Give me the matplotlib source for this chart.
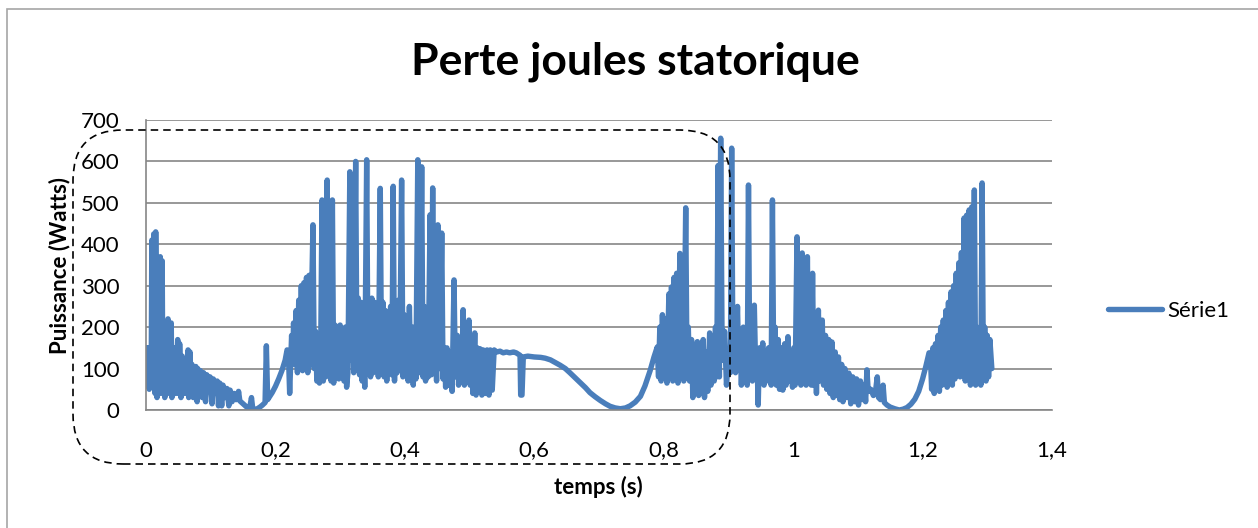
import numpy as np
import matplotlib
matplotlib.use("Agg")
from matplotlib import pyplot as plt
from matplotlib.patches import FancyBboxPatch, Rectangle
from matplotlib.transforms import IdentityTransform

# Perte joules statorique, relevé par tronçons (temps en s, puissance en W)
t_demarrage = [0.000, 0.002, 0.003, 0.005, 0.006, 0.008, 0.009, 0.011, 0.012, 0.014,
               0.015, 0.017, 0.018, 0.020, 0.022, 0.023, 0.025, 0.026, 0.028, 0.029,
               0.031, 0.032, 0.034, 0.036, 0.037, 0.039, 0.040, 0.042, 0.043, 0.045,
               0.046, 0.048, 0.049, 0.051, 0.052, 0.054, 0.056, 0.057, 0.059, 0.060,
               0.062, 0.063, 0.065, 0.066, 0.068, 0.070, 0.071, 0.073, 0.074, 0.076,
               0.077, 0.079, 0.080, 0.082]
p_demarrage = [150, 60, 150, 50, 140, 60, 410, 70, 425, 40,
               430, 30, 130, 60, 370, 40, 360, 50, 140, 30,
               120, 60, 220, 40, 150, 210, 30, 130, 60, 150,
               40, 120, 170, 40, 160, 30, 130, 60, 120, 40,
               110, 50, 145, 30, 140, 50, 110, 30, 100, 50,
               105, 20, 100, 40]

t_creux1 = [0.084, 0.087, 0.089, 0.092, 0.094, 0.097, 0.099, 0.102, 0.104, 0.107,
            0.110, 0.112, 0.114, 0.117, 0.119, 0.122, 0.125, 0.128, 0.130, 0.133,
            0.136, 0.139, 0.142, 0.143, 0.145, 0.150, 0.155, 0.160, 0.163, 0.165,
            0.168, 0.172, 0.176, 0.180, 0.184, 0.186, 0.188, 0.190, 0.195, 0.200,
            0.205, 0.210, 0.215, 0.218]
p_creux1 = [95, 30, 90, 20, 85, 45, 80, 15, 75, 40,
            70, 10, 65, 10, 60, 30, 52, 10, 48, 20,
            40, 25, 28, 45, 22, 15, 8, 3, 30, 2,
            1, 3, 7, 12, 18, 155, 25, 30, 42, 57,
            75, 95, 120, 145]

t_montee = [0.220, 0.222, 0.225, 0.227, 0.228, 0.230, 0.232, 0.234, 0.236, 0.238,
            0.240, 0.242, 0.244, 0.246, 0.248, 0.250, 0.252, 0.254, 0.258, 0.260,
            0.262, 0.264, 0.267, 0.268, 0.270, 0.272, 0.274, 0.276, 0.278, 0.280,
            0.282, 0.284, 0.286, 0.288, 0.290, 0.292, 0.294, 0.296, 0.298, 0.300,
            0.302, 0.304, 0.306, 0.308, 0.310]
p_montee = [140, 40, 180, 120, 210, 110, 240, 90, 265, 110,
            300, 95, 307, 120, 320, 90, 325, 110, 447, 100,
            190, 70, 160, 65, 150, 507, 70, 400, 80, 555,
            90, 500, 70, 507, 65, 205, 90, 200, 75, 205,
            95, 195, 70, 200, 55]

t_regime = [0.312, 0.315, 0.317, 0.319, 0.321, 0.324, 0.326, 0.328, 0.330, 0.332,
            0.334, 0.336, 0.338, 0.341, 0.343, 0.345, 0.347, 0.349, 0.351, 0.353,
            0.355, 0.357, 0.359, 0.362, 0.364, 0.366, 0.368, 0.370, 0.372, 0.374,
            0.376, 0.378, 0.380, 0.382, 0.384, 0.386, 0.388, 0.390, 0.392, 0.395,
            0.397, 0.399, 0.401, 0.403, 0.405, 0.407, 0.409, 0.411, 0.413, 0.415,
            0.417, 0.420, 0.422, 0.424, 0.426, 0.428, 0.430, 0.432, 0.434, 0.436,
            0.439, 0.441, 0.443, 0.445, 0.447, 0.449, 0.451, 0.453, 0.455, 0.457,
            0.459, 0.461, 0.463]
p_regime = [90, 575, 120, 250, 90, 600, 100, 270, 85, 260,
            70, 200, 55, 604, 100, 250, 80, 270, 90, 260,
            100, 250, 80, 535, 90, 260, 80, 240, 70, 200,
            90, 250, 85, 540, 70, 230, 90, 265, 100, 555,
            80, 230, 95, 200, 70, 250, 90, 200, 60, 200,
            75, 604, 90, 210, 587, 80, 250, 70, 200, 80,
            471, 85, 536, 90, 250, 70, 447, 100, 200, 427,
            75, 150, 55]

t_palier = [0.465, 0.467, 0.470, 0.473, 0.476, 0.478, 0.481, 0.483, 0.486, 0.488,
            0.490, 0.492, 0.494, 0.496, 0.499, 0.501, 0.503, 0.505, 0.508, 0.510,
            0.512, 0.514, 0.516, 0.519, 0.521, 0.524, 0.527, 0.530, 0.532, 0.535,
            0.538, 0.542, 0.547, 0.552, 0.557, 0.562, 0.568, 0.572, 0.575, 0.578,
            0.579, 0.581, 0.583, 0.590, 0.600, 0.610, 0.617, 0.625, 0.632, 0.640,
            0.648, 0.655, 0.663, 0.671, 0.679, 0.686, 0.694, 0.702, 0.710, 0.717,
            0.725, 0.733, 0.741, 0.748, 0.756, 0.764, 0.771, 0.779, 0.785]
p_palier = [150, 60, 140, 45, 314, 80, 180, 60, 160, 70,
            242, 60, 200, 70, 217, 60, 160, 40, 186, 36,
            150, 45, 148, 36, 145, 40, 145, 36, 145, 48,
            145, 140, 142, 138, 140, 138, 140, 138, 135, 132,
            36, 36, 128, 130, 128, 127, 125, 121, 115, 108,
            100, 90, 78, 66, 54, 42, 32, 23, 15, 9,
            5, 3, 5, 10, 19, 33, 58, 95, 128]

t_crete = [0.790, 0.792, 0.794, 0.796, 0.798, 0.800, 0.803, 0.805, 0.808, 0.810,
           0.812, 0.814, 0.816, 0.818, 0.820, 0.822, 0.825, 0.827, 0.829, 0.831,
           0.834, 0.836, 0.838, 0.840, 0.843, 0.845, 0.848, 0.850, 0.852, 0.854,
           0.857, 0.859, 0.861, 0.863, 0.866, 0.868, 0.871, 0.873, 0.876, 0.878,
           0.880, 0.882, 0.884, 0.886, 0.888, 0.890, 0.892, 0.894, 0.897, 0.900,
           0.903, 0.905, 0.907, 0.909, 0.911, 0.914, 0.916, 0.918, 0.920, 0.923,
           0.925, 0.927, 0.929, 0.931, 0.933, 0.935, 0.937, 0.940, 0.942, 0.944,
           0.946, 0.948, 0.950, 0.953, 0.955, 0.957, 0.959, 0.962, 0.966, 0.968,
           0.970, 0.972, 0.974, 0.977, 0.979, 0.982, 0.984, 0.987, 0.989, 0.992,
           0.994, 0.997, 0.999, 1.001, 1.003]
p_crete = [152, 80, 200, 70, 230, 90, 220, 65, 280, 80,
           297, 70, 320, 90, 330, 65, 378, 80, 340, 70,
           488, 90, 200, 70, 170, 30, 150, 40, 165, 35,
           110, 40, 170, 30, 140, 45, 186, 60, 150, 70,
           200, 80, 590, 80, 656, 200, 120, 190, 60, 130,
           90, 632, 100, 240, 90, 250, 100, 170, 60, 200,
           70, 128, 60, 543, 80, 150, 70, 253, 100, 130,
           12, 150, 70, 162, 60, 130, 70, 150, 60, 507,
           80, 200, 60, 170, 50, 150, 48, 160, 60, 177,
           70, 140, 55, 150, 60]

t_decroissance = [1.006, 1.008, 1.010, 1.012, 1.014, 1.016, 1.018, 1.020, 1.022, 1.024,
                  1.026, 1.028, 1.030, 1.032, 1.034, 1.036, 1.039, 1.041, 1.043, 1.045,
                  1.047, 1.050, 1.052, 1.055, 1.057, 1.060, 1.062, 1.065, 1.067, 1.070,
                  1.072, 1.075, 1.077, 1.080, 1.083, 1.086, 1.089, 1.092, 1.095, 1.098,
                  1.101, 1.104, 1.107, 1.110, 1.112, 1.114, 1.116, 1.120, 1.124, 1.127,
                  1.130, 1.132, 1.135, 1.139, 1.141, 1.145, 1.150, 1.157, 1.164, 1.170,
                  1.176, 1.182, 1.188, 1.194, 1.200, 1.205, 1.210]
p_decroissance = [418, 70, 200, 60, 379, 80, 200, 60, 370, 70,
                  250, 60, 330, 60, 200, 40, 241, 70, 200, 217,
                  60, 180, 50, 170, 40, 164, 30, 140, 35, 128,
                  25, 110, 20, 100, 30, 89, 15, 80, 20, 75,
                  12, 70, 25, 60, 20, 97, 45, 50, 35, 42,
                  80, 30, 25, 60, 18, 12, 7, 3, 0, 2,
                  6, 14, 26, 45, 75, 105, 138]

t_fin = [1.212, 1.214, 1.216, 1.218, 1.220, 1.222, 1.224, 1.226, 1.228, 1.230,
         1.232, 1.234, 1.236, 1.238, 1.240, 1.242, 1.244, 1.246, 1.248, 1.250,
         1.252, 1.254, 1.256, 1.258, 1.260, 1.262, 1.264, 1.266, 1.268, 1.270,
         1.272, 1.274, 1.276, 1.278, 1.280, 1.282, 1.284, 1.286, 1.288, 1.290,
         1.292, 1.294, 1.296, 1.298, 1.300, 1.302, 1.304, 1.307]
p_fin = [138, 50, 150, 40, 160, 60, 180, 45, 200, 60,
         217, 70, 240, 55, 260, 80, 285, 60, 300, 75,
         330, 90, 355, 80, 380, 90, 463, 70, 470, 100,
         483, 60, 490, 90, 531, 60, 200, 70, 150, 60,
         548, 80, 200, 70, 180, 80, 170, 100]

x_ticks = [0, 0.2, 0.4, 0.6, 0.8, 1.0, 1.2, 1.4]
x_labels = ['0', '0,2', '0,4', '0,6', '0,8', '1', '1,2', '1,4']
y_ticks = [0, 100, 200, 300, 400, 500, 600, 700]

temps = np.concatenate([t_demarrage, t_creux1, t_montee, t_regime, t_palier,
                        t_crete, t_decroissance, t_fin])
puissance = np.concatenate([p_demarrage, p_creux1, p_montee, p_regime, p_palier,
                            p_crete, p_decroissance, p_fin])

plt.rcParams['font.family'] = ['Lato', 'DejaVu Sans']
plt.rcParams['font.size'] = 16

W, H = 1258, 528
fig = plt.figure(figsize=(W / 100, H / 100), dpi=100)
fig.patch.set_facecolor('white')

# chart frame (only the left and top edges fall inside the image)
fig.patches.append(Rectangle((7, -20), 1400, H - 9 + 20, transform=IdentityTransform(),
                             fill=False, edgecolor='#a6a6a6', linewidth=1.2))

grid_grey = '#868686'
blue = '#4a7ebb'

ax = fig.add_axes([146 / W, 1 - 410 / H, (1052 - 146) / W, 290 / H])
ax.plot(temps, puissance, color=blue, linewidth=3.9, solid_joinstyle='round',
        solid_capstyle='round', label='Série1')

ax.set_xlim(0, 1.4)
ax.set_ylim(0, 700)
ax.set_xticks(x_ticks)
ax.set_xticklabels(x_labels)
ax.set_yticks(y_ticks)
ax.tick_params(axis='both', length=0, labelsize=16, colors='black')
ax.tick_params(axis='y', pad=19)
ax.tick_params(axis='x', pad=22)
ax.yaxis.grid(True, color=grid_grey, linewidth=1.2)
ax.set_axisbelow(True)
for side in ('top', 'right'):
    ax.spines[side].set_visible(False)
for side in ('left', 'bottom'):
    ax.spines[side].set_color(grid_grey)
    ax.spines[side].set_linewidth(1.2)

fig.text(635 / W, 1 - 75 / H, 'Perte joules statorique', ha='center', va='baseline',
         fontsize=32, fontweight='bold')
fig.text(598 / W, 1 - 487 / H, 'temps (s)', ha='center', va='center',
         fontsize=16, fontweight='bold')
fig.text(60 / W, 1 - 265 / H, 'Puissance (Watts)', ha='center', va='center',
         rotation=90, fontsize=16, fontweight='bold')

fig.legend(loc='center left', bbox_to_anchor=(1108 / W, 1 - 311 / H), frameon=False,
           handlelength=2.45, handletextpad=0.2, borderpad=0, borderaxespad=0,
           fontsize=16)

# dashed outline around the first part of the record
fig.patches.append(FancyBboxPatch((73, H - 464), 657, 334,
                                  boxstyle='round,pad=0,rounding_size=50',
                                  transform=IdentityTransform(), fill=False,
                                  edgecolor='black', linewidth=1.2,
                                  linestyle=(0, (4.5, 3)), zorder=10))

fig.savefig('out.png', dpi=100)
